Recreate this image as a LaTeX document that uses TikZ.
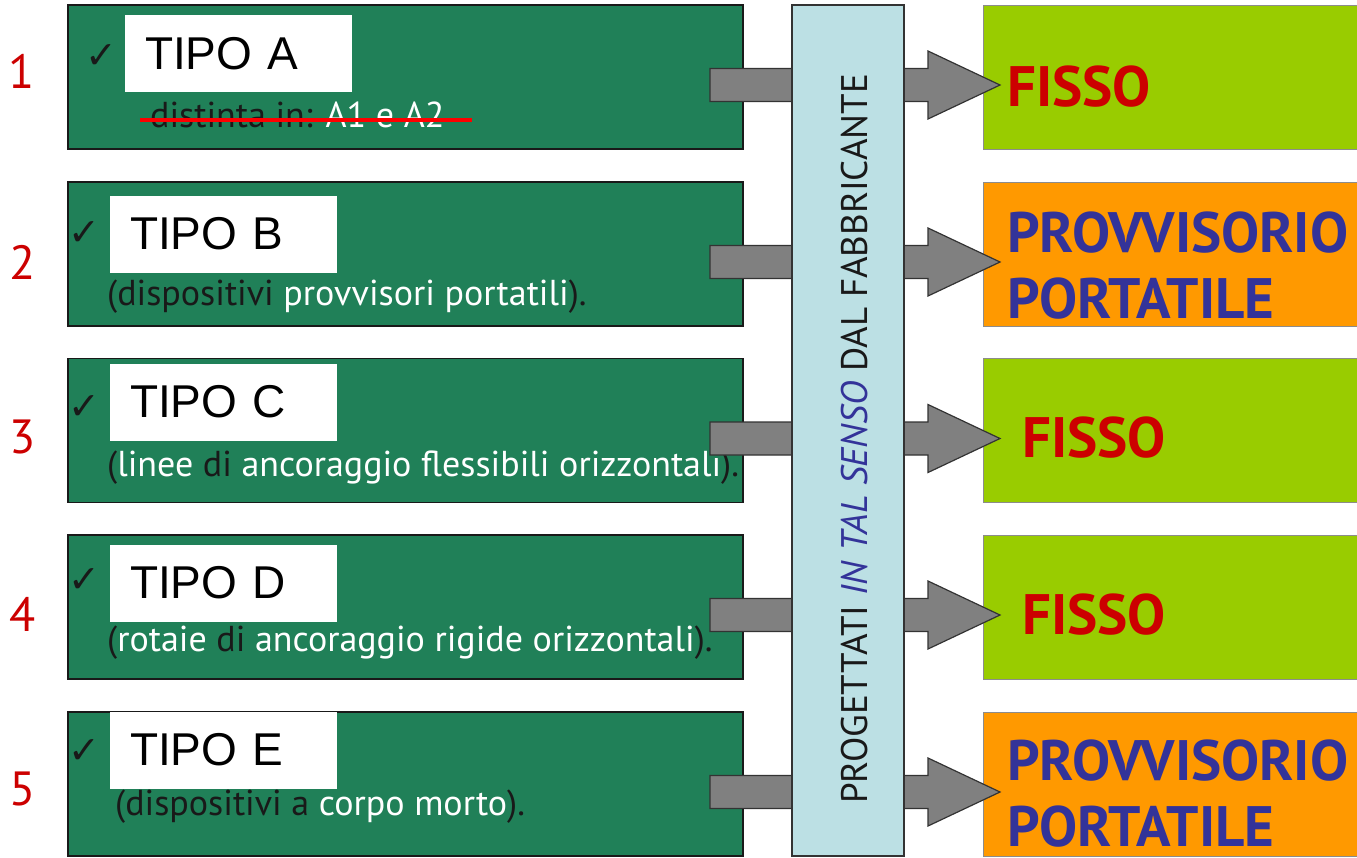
\documentclass[tikz,border=0pt]{standalone}
\usepackage{fontspec}
\setmainfont{PT Sans}
\newfontfamily\arialfont{Liberation Sans}
\newfontfamily\symfont{DejaVu Sans}
\usetikzlibrary{calc}

\definecolor{boxgreen}{RGB}{32,128,88}
\definecolor{limebox}{RGB}{153,204,0}
\definecolor{orangebox}{RGB}{255,153,0}
\definecolor{barblue}{RGB}{188,224,228}
\definecolor{arrowgray}{RGB}{128,128,128}
\definecolor{darkred}{RGB}{204,0,0}
\definecolor{navy}{RGB}{51,51,153}
\definecolor{inkdark}{RGB}{25,25,25}

% block arrow that runs from a type box, under the bar, into a result box
\newcommand\fatarrow[2]{%
  \draw[blockarrow]
    ($(#1.east)+(-33,-8.5)$) -- ($(#2.west)+(-55,-8.5)$) --
    ($(#2.west)+(-55,-26)$) -- ($(#2.west)+(17,8)$) --
    ($(#2.west)+(-55,42)$) -- ($(#2.west)+(-55,24.5)$) --
    ($(#1.east)+(-33,24.5)$) -- cycle;}

\begin{document}
\begin{tikzpicture}[x=1pt,y=-1pt,
  typebox/.style={draw=inkdark, line width=1.6pt, fill=boxgreen,
    minimum width=675pt, minimum height=144pt, inner sep=0pt, outer sep=0pt},
  resultbox/.style={draw=black!45, line width=1pt, minimum width=420pt,
    minimum height=144pt, inner sep=0pt, outer sep=0pt, anchor=west},
  tipolabel/.style={fill=white, inner xsep=20pt, inner ysep=0pt, text width=187pt,
    minimum height=77pt, align=left, font=\arialfont\fontsize{46}{50}\selectfont},
  ticksign/.style={text=inkdark, font=\symfont\fontsize{38}{40}\selectfont, inner sep=0pt},
  subtext/.style={anchor=base west, inner sep=0pt, text=inkdark,
    font=\fontsize{36}{40}\selectfont},
  rownum/.style={text=darkred, inner sep=0pt, font=\fontsize{48}{52}\selectfont},
  fixedtxt/.style={anchor=base west, inner sep=0pt, text=darkred,
    font=\bfseries\fontsize{57}{66}\selectfont},
  portabletxt/.style={anchor=base west, inner sep=0pt, text=navy, align=left,
    text depth=0pt, font=\bfseries\fontsize{57}{66}\selectfont},
  blockarrow/.style={fill=arrowgray, draw=black!80, line width=1.2pt, line join=miter},
]
\useasboundingbox (0,0) rectangle (1357,857);
\clip (0,0) rectangle (1357,857);

% row numbers
\node[rownum] (n1) at (22,71) {1};
\node[rownum] (n2) at (23,262) {2};
\node[rownum] (n3) at (23,437) {3};
\node[rownum] (n4) at (23,614) {4};
\node[rownum] (n5) at (23,789) {5};

% green type boxes
\node[typebox] (g1) at (405.5,77) {};
\node[typebox] (g2) at (405.5,254) {};
\node[typebox] (g3) at (405.5,430.5) {};
\node[typebox] (g4) at (405.5,607) {};
\node[typebox] (g5) at (405.5,784) {};

% check marks
\node[ticksign] (c1) at (101,57) {✓};
\node[ticksign] (c2) at (84,234) {✓};
\node[ticksign] (c3) at (84,408) {✓};
\node[ticksign] (c4) at (84,581) {✓};
\node[ticksign] (c5) at (84,752) {✓};

% white title labels
\node[tipolabel] (w1) at (238.5,53.5) {TIPO A};
\node[tipolabel] (w2) at (223.5,234) {TIPO B};
\node[tipolabel] (w3) at (223.5,402) {TIPO C};
\node[tipolabel] (w4) at (223.5,583) {TIPO D};
\node[tipolabel] (w5) at (223.5,750) {TIPO E};

% descriptions
\node[subtext] (s1) at (150,127) {distinta in: \textcolor{white}{A1 e A2}};
\node[subtext] (s2) at (107,305) {(dispositivi \textcolor{white}{provvisori portatili}).};
\node[subtext] (s3) at (107,476) {(\textcolor{white}{linee} di \textcolor{white}{ancoraggio flessibili orizzontali}).};
\node[subtext] (s4) at (107,651) {(\textcolor{white}{rotaie} di \textcolor{white}{ancoraggio rigide orizzontali}).};
\node[subtext] (s5) at (115,815) {(dispositivi a \textcolor{white}{corpo morto}).};
\draw[red, line width=3.5pt] ($(s1.base west)+(-10,-7)$) -- ($(s1.base west)+(322,-7)$);

% result boxes
\node[resultbox, fill=limebox] (r1) at (983,77) {};
\node[resultbox, fill=orangebox] (r2) at (983,254) {};
\node[resultbox, fill=limebox] (r3) at (983,430.5) {};
\node[resultbox, fill=limebox] (r4) at (983,607) {};
\node[resultbox, fill=orangebox] (r5) at (983,784) {};

% arrows from each type to its result
\fatarrow{g1}{r1}
\fatarrow{g2}{r2}
\fatarrow{g3}{r3}
\fatarrow{g4}{r4}
\fatarrow{g5}{r5}

% vertical bar across the arrows
\node[draw=black!80, line width=1.2pt, fill=barblue, minimum width=112pt,
  minimum height=851pt, inner sep=0pt] (bar) at (848,430.5) {};
\node[rotate=90, inner sep=0pt, text=inkdark, font=\fontsize{37}{40}\selectfont]
  (bartext) at ($(bar.center)+(6.5,8.5)$)
  {PROGETTATI \textcolor{navy}{\itshape IN TAL SENSO} DAL FABBRICANTE};

% result texts (the base of a two-line node is its last line)
\node[fixedtxt] (t1) at (1007,106) {FISSO};
\node[portabletxt] (t2) at (1007,318) {PROVVISORIO\\PORTATILE};
\node[fixedtxt] (t3) at (1022,457) {FISSO};
\node[fixedtxt] (t4) at (1022,634) {FISSO};
\node[portabletxt] (t5) at (1007,846) {PROVVISORIO\\PORTATILE};
\end{tikzpicture}
\end{document}
